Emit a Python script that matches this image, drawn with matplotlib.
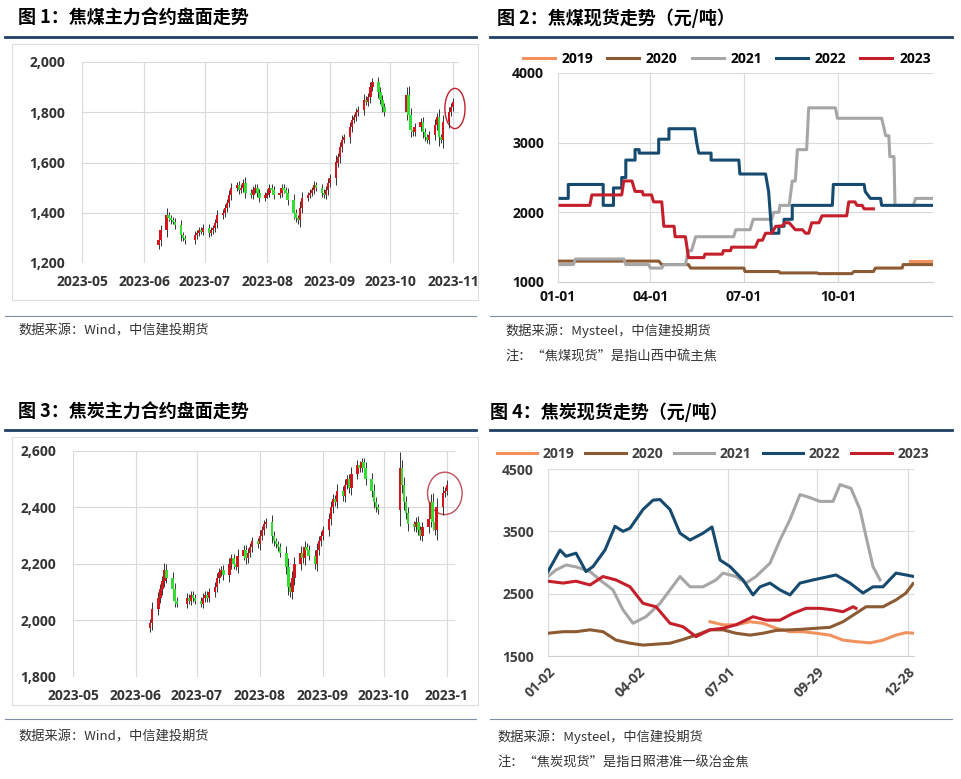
import matplotlib
matplotlib.use("Agg")
import matplotlib.pyplot as plt
import matplotlib.dates as mdates
import matplotlib.patches as mpatches
import numpy as np
import pandas as pd

CJK = "Noto Sans CJK SC"
TICKF = "Open Sans"
W, H = 961, 779

# ---------------- data ----------------
coal_close = {
    "2023-06": [1290,1330,1390,1380,1370,1365,1350,1310,1300,1290,1310,1320,1330,1325,1340],
    "2023-07": [1320,1330,1340,1360,1390,1400,1420,1440,1470,1500,1510,1490,1500,1520,1480,1470,1490,1500,1480,1460,1470],
    "2023-08": [1480,1500,1490,1470,1480,1500,1490,1480,1450,1400,1380,1370,1420,1460,1470,1480,1490,1510,1500,1480,1470,1490,1520],
    "2023-09": [1540,1600,1620,1660,1690,1700,1740,1770,1780,1800,1810,1850,1840,1860,1900,1920,1880,1850,1820,1800],
    "2023-10": [1870,1790,1730,1720,1740,1760,1720,1700,1690,1710,1750,1780,1700,1690,1760,1800,1820],
    "2023-11": [1840],
}
coke_close = {
    "2023-06": [1990,2040,2080,2110,2140,2180,2150,2110,2070,2060,2080,2070,2090,2080,2070],
    "2023-07": [2060,2080,2090,2080,2100,2120,2150,2170,2180,2160,2200,2220,2200,2190,2230,2250,2220,2240,2260,2280,2270],
    "2023-08": [2300,2320,2340,2350,2300,2280,2270,2260,2240,2190,2120,2100,2150,2200,2240,2220,2260,2250,2230,2200,2250,2280,2300],
    "2023-09": [2320,2360,2400,2430,2420,2460,2440,2480,2500,2470,2520,2550,2540,2560,2540,2500,2460,2420,2400,2390],
    "2023-10": [2540,2480,2420,2380,2340,2330,2350,2320,2300,2330,2360,2420,2350,2320,2400,2450,2460],
    "2023-11": [2480],
}
first_open_coal = 1270
first_open_coke = 1975
holidays = ["2023-06-22", "2023-06-23", "2023-09-29", "2023-10-02", "2023-10-03",
            "2023-10-04", "2023-10-05", "2023-10-06"]
candle_ticks = ["2023-05", "2023-06", "2023-07", "2023-08", "2023-09", "2023-10", "2023-11"]

# panel 2 (step series: day-of-year, value)
coal_spot = {
    "2019": ([343, 365], [1300, 1300]),
    "2020": ([0,98,101,127,129,181,182,215,216,252,254,286,288,307,309,335,336,365],
             [1300,1300,1250,1250,1200,1200,1150,1150,1130,1130,1120,1120,1150,1150,1200,1200,1250,1250]),
    "2021": ([2,15,17,64,66,88,90,101,103,124,127,130,134,171,173,187,190,208,210,215,216,225,228,231,233,242,244,270,272,315,319,322,323,327,328,346,348,365],
             [1250,1250,1330,1330,1250,1250,1200,1200,1250,1250,1450,1450,1650,1650,1750,1750,1900,1900,2000,2000,2100,2100,2450,2450,2900,2900,3500,3500,3350,3350,3100,3100,2800,2800,2100,2100,2200,2200]),
    "2022": ([2,10,10,44,44,54,54,62,62,66,66,75,75,79,79,98,98,108,108,133,135,137,149,149,176,177,202,205,208,215,215,220,220,228,228,267,268,298,299,304,314,315,365],
             [2200,2200,2400,2400,2100,2100,2350,2350,2500,2500,2750,2750,2900,2900,2850,2850,3050,3050,3200,3200,3000,2850,2850,2750,2750,2550,2550,2300,1700,1700,1800,1800,1900,1900,2100,2100,2400,2400,2300,2200,2200,2100,2100]),
    "2023": ([2,31,33,62,64,72,75,82,83,91,93,101,103,113,114,124,127,142,143,160,161,168,169,192,195,199,202,208,212,218,221,225,231,238,241,244,247,254,257,281,283,289,291,296,298,307],
             [2100,2100,2250,2250,2450,2450,2300,2300,2250,2250,2150,2150,1800,1800,1650,1650,1350,1350,1400,1400,1450,1450,1500,1500,1600,1600,1700,1700,1800,1800,1850,1850,1750,1750,1700,1700,1850,1850,1950,1950,2150,2150,2100,2100,2050,2050]),
}
coal_ticks_day = [0, 90, 181, 273]
coal_tick_labels = ["01-01", "04-01", "07-01", "10-01"]

# panel 4 (day offset, value)
coke_spot = {
    "2019": ([162,175,188,202,215,228,242,255,268,282,295,308,322,335,348,358,366],
             [2050,2000,2000,2050,2025,1945,1890,1890,1865,1835,1755,1730,1710,1755,1835,1875,1865]),
    "2020": ([0,15,28,42,55,68,82,95,108,122,135,148,162,175,188,202,215,228,242,255,268,282,295,308,318,335,348,358,365],
             [1865,1890,1890,1920,1890,1755,1705,1675,1690,1705,1765,1835,1920,1920,1865,1835,1865,1910,1920,1930,1945,1960,2050,2185,2290,2290,2400,2510,2660]),
    "2021": ([0,8,18,28,42,52,65,75,85,98,112,122,132,142,155,168,175,188,198,208,222,232,242,252,262,272,285,292,303,312,318,325,332],
             [2775,2880,2960,2930,2855,2720,2560,2240,2025,2130,2345,2560,2775,2610,2610,2720,2830,2775,2670,2775,2990,3360,3690,4090,4040,3980,3980,4250,4190,3850,3420,2935,2720]),
    "2022": ([0,12,18,28,38,45,57,67,75,82,95,105,112,122,132,142,155,164,172,182,195,205,212,222,232,242,252,265,288,302,315,325,335,348,358,366],
             [2855,3200,3100,3150,2855,2935,3200,3580,3500,3550,3850,4000,4010,3850,3470,3360,3470,3570,3040,2935,2720,2480,2610,2670,2560,2480,2670,2720,2800,2670,2510,2610,2610,2830,2800,2775]),
    "2023": ([0,15,28,42,55,68,82,95,108,122,135,148,162,175,188,205,218,232,245,258,272,285,295,305,308],
             [2700,2670,2700,2640,2775,2720,2610,2345,2290,2025,1970,1810,1920,1945,2000,2130,2075,2075,2185,2265,2265,2240,2210,2290,2265]),
}
coke_ticks_day = [0, 90, 180, 269, 360]
coke_tick_labels = ["01-02", "04-02", "07-01", "09-29", "12-28"]

colors = {"2019": "#F0915E", "2020": "#8C5A33", "2021": "#A6A6A6", "2022": "#164A6E", "2023": "#C41F2A"}

titles = ["图 1：焦煤主力合约盘面走势", "图 2：焦煤现货走势（元/吨）",
          "图 3：焦炭主力合约盘面走势", "图 4：焦炭现货走势（元/吨）"]
sources = ["数据来源：Wind，中信建投期货", "数据来源：Mysteel，中信建投期货",
           "数据来源：Wind，中信建投期货", "数据来源：Mysteel，中信建投期货"]
notes = ["注：“焦煤现货”是指山西中硫主焦", "注：“焦炭现货”是指日照港准一级冶金焦"]

# ---------------- figure ----------------
fig = plt.figure(figsize=(W / 100, H / 100), dpi=100)
fig.patch.set_facecolor("white")

def box(l, t, r, b):
    return [l / W, 1 - b / H, (r - l) / W, (b - t) / H]

def fy(y):
    return 1 - y / H

for (x, y), t in zip([(18, 18), (497, 18), (18, 412), (490, 412)], titles):
    fig.text(x / W, fy(y), t, fontfamily=CJK, fontsize=13, fontweight="bold", va="center", ha="left")
for y in [37, 430]:
    fig.add_artist(plt.Line2D([5 / W, 476 / W], [fy(y)] * 2, color="#1F3F66", lw=2))
    fig.add_artist(plt.Line2D([490 / W, 952 / W], [fy(y)] * 2, color="#1F3F66", lw=2))
for y in [316, 719]:
    fig.add_artist(plt.Line2D([5 / W, 476 / W], [fy(y)] * 2, color="#7F8FA6", lw=0.8))
    fig.add_artist(plt.Line2D([490 / W, 952 / W], [fy(y)] * 2, color="#7F8FA6", lw=0.8))
for (x, y), t in zip([(18, 331), (505, 331), (18, 737), (497, 737)], sources):
    fig.text(x / W, fy(y), t, fontfamily=CJK, fontsize=9.5, color="#333333", va="center")
fig.text(505 / W, fy(357), notes[0], fontfamily=CJK, fontsize=9.5, color="#333333", va="center")
fig.text(497 / W, fy(763), notes[1], fontfamily=CJK, fontsize=9.5, color="#333333", va="center")

for (l, t, r, b) in [(12, 44, 478, 300), (12, 437, 478, 705)]:
    fig.add_artist(plt.Rectangle((l / W, fy(b)), (r - l) / W, (b - t) / H, fill=False, ec="#DDDDDD", lw=0.8))


def style_ticks(ax, size=10, color="#333333"):
    ax.tick_params(length=0, labelsize=size, colors=color)
    for lab in ax.get_xticklabels() + ax.get_yticklabels():
        lab.set_fontweight("bold")
        lab.set_fontfamily(TICKF)


def candles(ax, closes, first_open, ylim, yticks, last_label, xend):
    dates = pd.bdate_range("2023-06-08", "2023-11-01")
    dates = dates[~dates.isin(pd.to_datetime(holidays))]
    c = np.array([v for k in closes for v in closes[k]], dtype=float)
    dates = dates[:len(c)]
    o = np.concatenate([[first_open], c[:-1]])
    spread = np.abs(c - o)
    hi = np.maximum(o, c) + 10 + 0.3 * spread
    lo = np.minimum(o, c) - 10 - 0.3 * spread
    x = mdates.date2num(dates)
    up = c >= o
    for xi, oi, ci, h, l, u in zip(x, o, c, hi, lo, up):
        col = "#D4151C" if u else "#33DD33"
        ax.vlines(xi, l, h, color="#333333", lw=0.7, zorder=2)
        ax.bar(xi, max(abs(ci - oi), 5), bottom=min(oi, ci), width=1.2, color=col, zorder=3)
    ax.set_ylim(*ylim)
    ax.set_yticks(yticks)
    ax.set_yticklabels([f"{v:,}" for v in yticks])
    tk = mdates.date2num(pd.to_datetime(candle_ticks))
    ax.set_xticks(tk)
    labs = list(candle_ticks)
    labs[-1] = last_label
    ax.set_xticklabels(labs)
    ax.set_xlim(mdates.date2num(pd.Timestamp("2023-05-01")), mdates.date2num(pd.Timestamp(xend)))
    ax.grid(color="#D9D9D9", lw=0.8)
    ax.set_axisbelow(True)
    for s in ax.spines.values():
        s.set_visible(False)
    style_ticks(ax, 10, "#333333")
    ax.tick_params(axis="y", pad=12)
    ax.tick_params(axis="x", pad=9)


ax1 = fig.add_axes(box(82, 62, 459, 263))
candles(ax1, coal_close, first_open_coal, (1200, 2000), [1200, 1400, 1600, 1800, 2000], "2023-11", "2023-11-04")
ax1.add_patch(mpatches.Ellipse((mdates.date2num(pd.Timestamp("2023-11-02")), 1815), 10, 160,
                               fill=False, ec="#C0202A", lw=1, clip_on=False))

ax3 = fig.add_axes(box(73, 451, 455, 677))
candles(ax3, coke_close, first_open_coke, (1800, 2600), [1800, 2000, 2200, 2400, 2600], "2023-1", "2023-11-05")
ax3.add_patch(mpatches.Ellipse((mdates.date2num(pd.Timestamp("2023-10-31")), 2450), 17, 150,
                               fill=False, ec="#C0505A", lw=1, clip_on=False))


def lines_panel(ax, series, xlim, ylim, yticks, xt, xl, rot):
    for k in ["2019", "2020", "2021", "2022", "2023"]:
        xs, ys = series[k]
        ax.plot(xs, ys, color=colors[k], lw=2.2, label=k)
    ax.set_xlim(*xlim)
    ax.set_ylim(*ylim)
    ax.set_yticks(yticks)
    ax.set_xticks(xt)
    ax.set_xticklabels(xl, rotation=rot, ha="right" if rot else "center",
                       rotation_mode="anchor" if rot else "default")
    ax.grid(color="#D9D9D9", lw=0.8)
    ax.set_axisbelow(True)
    for s in ax.spines.values():
        s.set_visible(False)
    ax.spines["bottom"].set_visible(True)
    ax.spines["bottom"].set_color("#D0D0D0")


ax2 = fig.add_axes(box(558, 73, 933, 282))
lines_panel(ax2, coal_spot, (0, 365), (1000, 4000), [1000, 2000, 3000, 4000],
            coal_ticks_day, coal_tick_labels, 0)
style_ticks(ax2, 10, "#111111")
ax2.tick_params(axis="y", pad=10)
ax2.tick_params(axis="x", pad=6)
ax2.legend(loc="lower center", bbox_to_anchor=(0.45, 1.0), ncol=5, frameon=False,
           prop={"weight": "bold", "size": 10, "family": TICKF}, handlelength=2.3,
           columnspacing=1.0, handletextpad=0.5, borderaxespad=0.1)

ax4 = fig.add_axes(box(548, 469, 914, 656))
lines_panel(ax4, coke_spot, (0, 366), (1500, 4500), [1500, 2500, 3500, 4500],
            coke_ticks_day, coke_tick_labels, 45)
style_ticks(ax4, 10, "#404040")
ax4.tick_params(axis="x", pad=6)
ax4.tick_params(axis="y", pad=10)
ax4.legend(loc="lower center", bbox_to_anchor=(0.45, 1.0), ncol=5, frameon=False,
           prop={"weight": "bold", "size": 10, "family": TICKF}, handlelength=2.9,
           columnspacing=0.8, handletextpad=0.4, labelcolor="#404040", borderaxespad=0.2)

fig.savefig("out.png", dpi=100, facecolor="white")
